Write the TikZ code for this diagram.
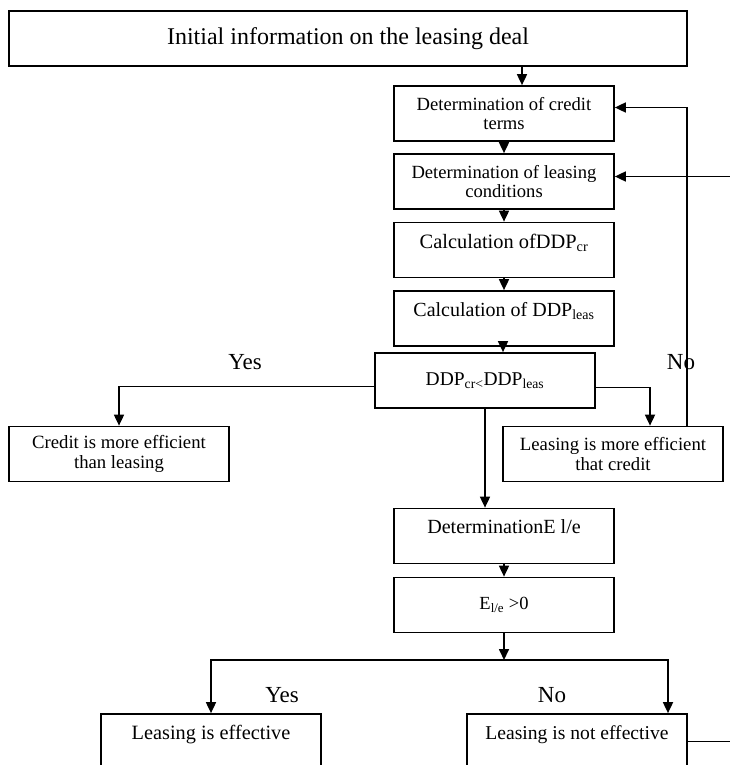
\documentclass[tikz,border=0pt]{standalone}
\usepackage{fontspec}
\setmainfont{Liberation Serif}
\usetikzlibrary{arrows.meta}

\newcommand{\fsz}[1]{\fontsize{#1}{1.05\dimexpr#1pt\relax}\selectfont}

\begin{document}
\begin{tikzpicture}[x=1pt, y=-1pt,
	box/.style={draw, line width=1.7pt, rectangle, inner sep=0pt, align=center,
		minimum width=220pt, minimum height=55pt, font=\fsz{19.5}},
	uptext/.style={text depth=18pt},
	lbl/.style={inner sep=1pt, font=\fsz{23}},
	arr/.style={line width=1.7pt, -{Triangle[length=11pt, width=10pt]}}]
	\clip (0,0) rectangle (730,765);
	% main column
	\node[box, minimum width=678pt, font=\fsz{24}] (init) at (348,38.5) {Initial information on the leasing deal};
	\node[box, font=\fsz{18.6}] (cterms) at (504,113.5) {Determination of credit\\terms};
	\node[box, font=\fsz{18.6}] (lcond) at (504,181.5) {Determination of leasing\\conditions};
	\node[box, uptext, font=\fsz{20.4}] (calccr) at (504,250) {Calculation ofDDP\textsubscript{cr}};
	\node[box, uptext, font=\fsz{20}] (calcleas) at (504,318.5) {Calculation of DDP\textsubscript{leas}};
	\node[box] (compare) at (485,380.5) {DDP\textsubscript{cr<}DDP\textsubscript{leas}};
	\node[box, font=\fsz{18.7}] (creditbetter) at (119,454) {Credit is more efficient\\than leasing};
	\node[box, font=\fsz{18.7}] (leasbetter) at (613,454) {Leasing is more efficient\\that credit};
	\node[box, uptext, font=\fsz{20.1}] (dete) at (504,536) {DeterminationE l/e};
	\node[box, font=\fsz{18.5}] (epos) at (504,605) {E\textsubscript{l/e} >0};
	\node[box, uptext, font=\fsz{20.3}] (leff) at (211,741.5) {Leasing is effective};
	\node[box, uptext, font=\fsz{19.6}] (lnoteff) at (577,741.5) {Leasing is not effective};
	% branch labels
	\node[lbl] (yes1) at (245,362) {Yes};
	\node[lbl] (no1) at (681,362) {No};
	\node[lbl] (yes2) at (282,695) {Yes};
	\node[lbl] (no2) at (552,695) {No};
	\coordinate (split) at (504,660);
	\coordinate (offr) at (745,0);
	% connectors
	\draw[arr] ([xshift=18pt]cterms.north |- init.south) -- ([xshift=18pt]cterms.north);
	\draw[arr] (cterms) -- (lcond);
	\draw[arr] (lcond) -- (calccr);
	\draw[arr] (calccr) -- (calcleas);
	\draw[arr] ([xshift=18pt]compare.north |- calcleas.south) -- ([xshift=18pt]compare.north);
	\draw[arr] ([yshift=-6pt]compare.west) -| (creditbetter.north);
	\draw[arr] ([yshift=-7pt]compare.east) -| ([xshift=37pt]leasbetter.north);
	\draw[arr] ([xshift=74pt]leasbetter.north) |- ([yshift=6pt]cterms.east);
	\draw[arr] (compare.south) -- (compare.south |- dete.north);
	\draw[arr] (dete) -- (epos);
	\draw[arr] (epos) -- (split);
	\draw[arr] (split) -| (leff.north);
	\draw[arr] (split) -| ([xshift=91pt]lnoteff.north);
	% return line leaves the picture on the right
	\draw[arr] (lnoteff.east) -- (lnoteff.east -| offr) |- ([yshift=5pt]lcond.east);
\end{tikzpicture}
\end{document}
